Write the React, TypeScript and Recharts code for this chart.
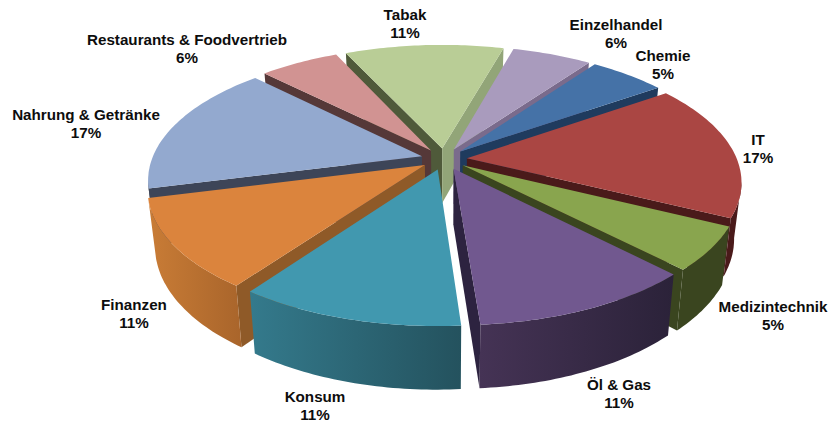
import { Pie, PieChart } from "recharts";

const CATEGORIES = [
  "Tabak",
  "Einzelhandel",
  "Chemie",
  "IT",
  "Medizintechnik",
  "Öl & Gas",
  "Konsum",
  "Finanzen",
  "Nahrung & Getränke",
  "Restaurants & Foodvertrieb",
];
const SHARES = [11.2, 5.6, 5.4, 17.0, 5.4, 11.1, 11.1, 11.1, 16.5, 5.6];

const TOP_COLORS = ["#b9cd96", "#a99bbd", "#4572a7", "#aa4643", "#89a54e", "#71588f", "#4198af", "#db843d", "#93a9cf", "#d19392"];
const EDGE_COLORS = ["#4f5a3a", "#7a6b8c", "#1f3b5e", "#4a1a1a", "#3a451f", "#2d2340", "#26555f", "#8f5a28", "#3d4558", "#553838"];
const EDGE_COLORS_RIGHT = ["#92a578", "#7a6b8c", "#1f3b5e", "#4a1a1a", "#3a451f", "#2d2340", "#26555f", "#8f5a28", "#3d4558", "#553838"];
const WALL_LEFT = ["#92a578", "#7a6b8c", "#1f3b5e", "#4a1a1a", "#3a451f", "#453355", "#347a8c", "#c97c36", "#3d4558", "#553838"];
const WALL_RIGHT = ["#92a578", "#7a6b8c", "#1f3b5e", "#4a1a1a", "#3a451f", "#2b2239", "#24525e", "#a9652b", "#3d4558", "#553838"];

// label centres, first line / second line sit LINE_GAP apart
const LABEL_SPOTS: Record<string, [number, number]> = {
  Tabak: [405, 15],
  Einzelhandel: [616, 25],
  Chemie: [663, 56],
  IT: [758, 140],
  Medizintechnik: [773, 307],
  "Öl & Gas": [619, 385],
  Konsum: [315, 397],
  Finanzen: [134, 305],
  "Nahrung & Getränke": [86, 115],
  "Restaurants & Foodvertrieb": [187, 40],
};

const WIDTH = 832;
const HEIGHT = 422;
const CX = 444;
const CY = 159;
const RADIUS = 270;
const START = 114.8;
const SPLIT = 6; // first six go down the right side, the rest up the left
const SQUASH = 0.4635;
const PERSPECTIVE = 0.175;
const EXPLODE = 0.085;
const DEPTH = 55;
const BASE_SHRINK = 0.975;
const LINE_GAP = 18;

const rows = CATEGORIES.map((name, i) => ({ name, value: SHARES[i], colorIndex: i }));
const rightRows = rows.slice(0, SPLIT);
const leftRows = rows.slice(SPLIT).reverse();
const total = SHARES.reduce((a, b) => a + b, 0);
const sum = (list: typeof rows) => list.reduce((a, r) => a + r.value, 0);

type Pt = { x: number; y: number; bx: number; by: number };

function makeProject(cx: number, cy: number, radius: number, midDeg: number) {
  const mid = (midDeg * Math.PI) / 180;
  return (r: number, deg: number): Pt => {
    const a = (deg * Math.PI) / 180;
    const u = EXPLODE * Math.cos(mid) + r * Math.cos(a);
    const v = EXPLODE * Math.sin(mid) + r * Math.sin(a);
    const s = 1 / (1 + PERSPECTIVE * v);
    const x = cx + radius * u * s;
    const y = cy - radius * SQUASH * v * s;
    return {
      x,
      y,
      bx: cx + (x - cx) * BASE_SHRINK,
      by: cy + (y - cy) * BASE_SHRINK + DEPTH * s,
    };
  };
}

const pathOf = (pts: [number, number][]) =>
  "M" + pts.map(([x, y]) => `${x.toFixed(1)},${y.toFixed(1)}`).join("L") + "Z";

function wallPath(list: Pt[]) {
  const top = list.map((p): [number, number] => [p.x, p.y]);
  const bottom = list.map((p): [number, number] => [p.bx, p.by]).reverse();
  return pathOf([...top, ...bottom]);
}

function Slice3D(props: any) {
  const { cx, cy, outerRadius, startAngle, endAngle, payload } = props;
  const idx = payload.colorIndex;
  const hi = Math.max(startAngle, endAngle);
  const lo = Math.min(startAngle, endAngle);
  const project = makeProject(cx, cy, outerRadius, (hi + lo) / 2);
  const apex = project(0, hi);

  const arc: Pt[] = [];
  const steps = Math.ceil(hi - lo);
  for (let i = 0; i <= steps; i++) arc.push(project(1, hi - ((hi - lo) * i) / steps));
  const first = arc[0];
  const last = arc[arc.length - 1];

  const frontArc: Pt[] = [];
  arc.forEach((p, i) => {
    const next = arc[i + 1];
    const prev = arc[i - 1];
    if ((next && next.x < p.x) || (prev && p.x < prev.x)) frontArc.push(p);
  });

  const gradId = `wall-${idx}`;
  const topPath = pathOf([[apex.x, apex.y], ...arc.map((p): [number, number] => [p.x, p.y])]);

  return (
    <g>
      <defs>
        <linearGradient id={gradId} x1="0" y1="0" x2="1" y2="0">
          <stop offset="0%" stopColor={WALL_LEFT[idx]} />
          <stop offset="100%" stopColor={WALL_RIGHT[idx]} />
        </linearGradient>
      </defs>
      {first.x < apex.x && <path d={wallPath([apex, first])} fill={EDGE_COLORS[idx]} />}
      {apex.x < last.x && <path d={wallPath([last, apex])} fill={EDGE_COLORS_RIGHT[idx]} />}
      {frontArc.length > 1 && <path d={wallPath(frontArc)} fill={`url(#${gradId})`} />}
      <path d={topPath} fill={TOP_COLORS[idx]} />
    </g>
  );
}

function SliceLabel(props: any) {
  const { name, value } = props;
  const [x, y] = LABEL_SPOTS[name];
  return (
    <text
      x={x}
      y={y + 5}
      textAnchor="middle"
      fontFamily="'Liberation Sans', Arial, sans-serif"
      fontWeight="bold"
      fontSize={15.2}
      fill="#0d0d0d"
    >
      <tspan x={x}>{name}</tspan>
      <tspan x={x} dy={LINE_GAP}>
        {Math.round(value)}%
      </tspan>
    </text>
  );
}

export default function App() {
  return (
    <div style={{ position: "absolute", left: 0, top: 0, width: WIDTH, height: HEIGHT, background: "#fff" }}>
      <PieChart width={WIDTH} height={HEIGHT} margin={{ top: 0, right: 0, bottom: 0, left: 0 }}>
        <Pie
          data={rightRows}
          dataKey="value"
          nameKey="name"
          cx={CX}
          cy={CY}
          innerRadius={0}
          outerRadius={RADIUS}
          startAngle={START}
          endAngle={START - (sum(rightRows) / total) * 360}
          stroke="none"
          shape={Slice3D}
          label={SliceLabel}
          labelLine={false}
          isAnimationActive={false}
        />
        <Pie
          data={leftRows}
          dataKey="value"
          nameKey="name"
          cx={CX}
          cy={CY}
          innerRadius={0}
          outerRadius={RADIUS}
          startAngle={START}
          endAngle={START + (sum(leftRows) / total) * 360}
          stroke="none"
          shape={Slice3D}
          label={SliceLabel}
          labelLine={false}
          isAnimationActive={false}
        />
      </PieChart>
    </div>
  );
}
